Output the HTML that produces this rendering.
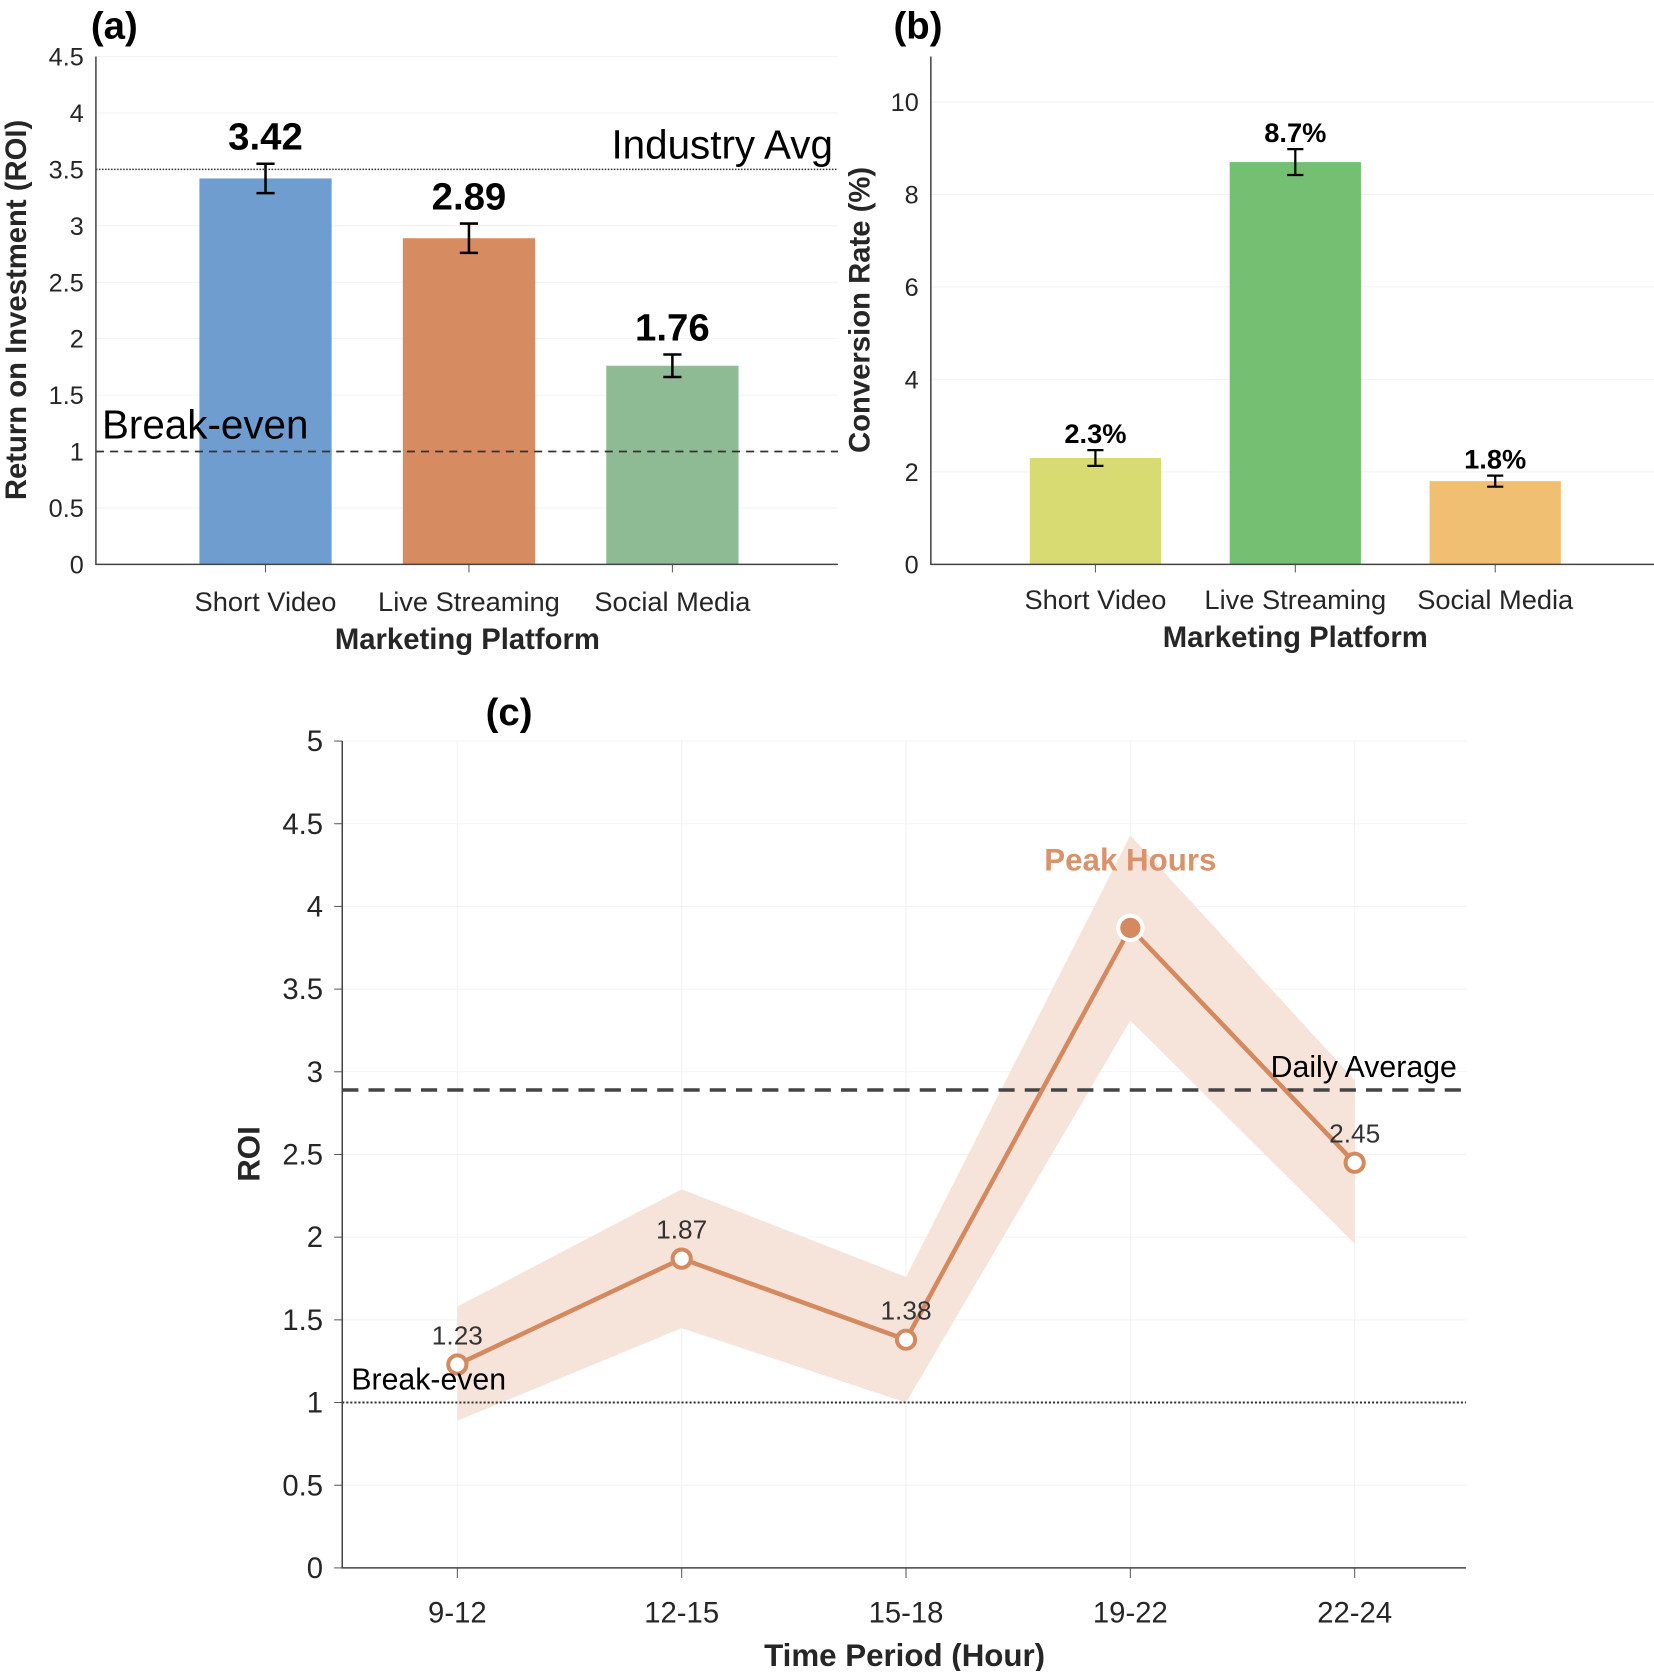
<!DOCTYPE html>
<html><head><meta charset="utf-8"><style>
body{margin:0;background:#fff;}
svg text{font-family:"Liberation Sans",Arial,sans-serif;}
</style></head><body>
<svg id="fig" width="1654" height="1671" viewBox="0 0 1654 1671" xmlns="http://www.w3.org/2000/svg">
<g transform="scale(1.0096)">
<g id="pa"></g>
<g id="pb"></g>
<g id="pc"></g>
</g>
</svg>
<script>
const platforms = ["Short Video","Live Streaming","Social Media"];
const roiValues = [3.42, 2.89, 1.76];
const roiErr = [0.13, 0.13, 0.10];
const roiLabels = ["3.42","2.89","1.76"];
const roiTicks = [0,0.5,1,1.5,2,2.5,3,3.5,4,4.5];
const convValues = [2.3, 8.7, 1.8];
const convErr = [0.17, 0.28, 0.12];
const convLabels = ["2.3%","8.7%","1.8%"];
const convTicks = [0,2,4,6,8,10];
const periods = ["9-12","12-15","15-18","19-22","22-24"];
const timeRoi = [1.23, 1.87, 1.38, 3.87, 2.45];
const bandLow = [0.89, 1.45, 1.0, 3.31, 1.96];
const bandHigh = [1.58, 2.29, 1.76, 4.43, 2.95];
const timeLabels = ["1.23","1.87","1.38","","2.45"];
const timeTicks = [0,0.5,1,1.5,2,2.5,3,3.5,4,4.5,5];
const breakEven = 1, industryAvg = 3.5, dailyAvg = 2.89;

const NS="http://www.w3.org/2000/svg";
function mk(parent, tag, attrs, text){
  const e=document.createElementNS(NS,tag);
  for(const k in attrs) e.setAttribute(k,attrs[k]);
  if(text!==undefined) e.textContent=text;
  parent.appendChild(e); return e;
}
const fmt=v=>String(v);

// ---------- Panel A ----------
(function(){
  const g=document.getElementById('pa');
  const L=95,R=830,T=56,B=559, ymax=4.5;
  const y=v=>B-(v/ymax)*(B-T);
  const xc=i=>263+i*201.5; const bw=131;
  roiTicks.forEach(t=>{
    const gl=mk(g,'line',{x1:L,x2:R,y1:y(t),y2:y(t),stroke:'#f2f2f2','stroke-width':1});
    
    
    const tl=mk(g,'text',{x:L-12,y:y(t)+9,'text-anchor':'end','font-size':25,fill:'#262626'},fmt(t));
    
    
  });
  const cols=['#6f9dcf','#d78b60','#8fbb94'];
  roiValues.forEach((v,i)=>{
    const b=mk(g,'rect',{x:xc(i)-bw/2,y:y(v),width:bw,height:B-y(v),fill:cols[i]});
    
    
    const e=roiErr[i];
    const eb=mk(g,'path',{d:`M${xc(i)},${y(v+e)}V${y(v-e)}M${xc(i)-9},${y(v+e)}h18M${xc(i)-9},${y(v-e)}h18`,stroke:'#000','stroke-width':2.5,fill:'none'});
    
    
    const lb=mk(g,'text',{x:xc(i),y:y(v+e)-14,'text-anchor':'middle','font-size':38,'font-weight':'bold',fill:'#000'},roiLabels[i]);
    
    
    const xl=mk(g,'text',{x:xc(i),y:605,'text-anchor':'middle','font-size':27,fill:'#262626'},platforms[i]);
    
    
    mk(g,'line',{x1:xc(i),x2:xc(i),y1:B,y2:B+8,stroke:'#555'});
  });
  const be=mk(g,'line',{x1:L,x2:R,y1:y(breakEven),y2:y(breakEven),stroke:'#333','stroke-width':1.8,'stroke-dasharray':'8,6'});
  
  
  const ia=mk(g,'line',{x1:L,x2:R,y1:y(industryAvg),y2:y(industryAvg),stroke:'#333','stroke-width':1.5,'stroke-dasharray':'1.5,1.5'});
  
  
  const t1=mk(g,'text',{x:101,y:y(breakEven)-13,'font-size':40,fill:'#000'},'Break-even');
  
  
  const t2=mk(g,'text',{x:825,y:y(industryAvg)-11,'text-anchor':'end','font-size':40,fill:'#000'},'Industry Avg');
  
  
  mk(g,'path',{d:`M${L},${T}V${B}H${R}`,stroke:'#444','stroke-width':1.5,fill:'none'});
  const xt=mk(g,'text',{x:463,y:643,'text-anchor':'middle','font-size':29,'font-weight':'bold',fill:'#262626'},'Marketing Platform');
  
  
  const yt=mk(g,'text',{x:0,y:0,transform:`translate(26,307) rotate(-90)`,'text-anchor':'middle','font-size':29,'font-weight':'bold',fill:'#262626'},'Return on Investment (ROI)');
  
  
  const pt=mk(g,'text',{x:90,y:38,'font-size':38,'font-weight':'bold',fill:'#000'},'(a)');
  
  
})();

// ---------- Panel B ----------
(function(){
  const g=document.getElementById('pb');
  const L=922,R=1648,T=56,B=559, y10=101;
  const y=v=>B-(v/10)*(B-y10);
  const xc=i=>1085+i*198; const bw=130;
  convTicks.forEach(t=>{
    const gl=mk(g,'line',{x1:L,x2:R,y1:y(t),y2:y(t),stroke:'#f2f2f2','stroke-width':1});
    
    
    const tl=mk(g,'text',{x:L-12,y:y(t)+9,'text-anchor':'end','font-size':25,fill:'#262626'},fmt(t));
    
    
  });
  const cols=['#d8da72','#74bf72','#f1bf72'];
  convValues.forEach((v,i)=>{
    const b=mk(g,'rect',{x:xc(i)-bw/2,y:y(v),width:bw,height:B-y(v),fill:cols[i]});
    
    
    const e=convErr[i];
    const eb=mk(g,'path',{d:`M${xc(i)},${y(v+e)}V${y(v-e)}M${xc(i)-8},${y(v+e)}h16M${xc(i)-8},${y(v-e)}h16`,stroke:'#000','stroke-width':2.2,fill:'none'});
    
    
    const lb=mk(g,'text',{x:xc(i),y:y(v+e)-7,'text-anchor':'middle','font-size':27,'font-weight':'bold',fill:'#000'},convLabels[i]);
    
    
    const xl=mk(g,'text',{x:xc(i),y:603,'text-anchor':'middle','font-size':27,fill:'#262626'},platforms[i]);
    
    
    mk(g,'line',{x1:xc(i),x2:xc(i),y1:B,y2:B+8,stroke:'#555'});
  });
  mk(g,'path',{d:`M${L},${T}V${B}H${R}`,stroke:'#444','stroke-width':1.5,fill:'none'});
  const xt=mk(g,'text',{x:1283,y:641,'text-anchor':'middle','font-size':29,'font-weight':'bold',fill:'#262626'},'Marketing Platform');
  
  
  const yt=mk(g,'text',{x:0,y:0,transform:`translate(861,307) rotate(-90)`,'text-anchor':'middle','font-size':29,'font-weight':'bold',fill:'#262626'},'Conversion Rate (%)');
  
  
  const pt=mk(g,'text',{x:885,y:38,'font-size':38,'font-weight':'bold',fill:'#000'},'(b)');
  
  
})();

// ---------- Panel C ----------
(function(){
  const g=document.getElementById('pc');
  const L=339,R=1452,T=734,B=1553, ymax=5;
  const y=v=>B-(v/ymax)*(B-T);
  const x=i=>453+i*222.2;
  timeTicks.forEach(t=>{
    const gl=mk(g,'line',{x1:L,x2:R,y1:y(t),y2:y(t),stroke:'#f2f2f2','stroke-width':1});
    
    
    const tl=mk(g,'text',{x:L-19,y:y(t)+10,'text-anchor':'end','font-size':29,fill:'#262626'},fmt(t));
    
    
    mk(g,'line',{x1:L-8,x2:L,y1:y(t),y2:y(t),stroke:'#555'});
  });
  periods.forEach((p,i)=>{
    const gl=mk(g,'line',{x1:x(i),x2:x(i),y1:T,y2:B,stroke:'#f2f2f2','stroke-width':1});
    
    
    mk(g,'line',{x1:x(i),x2:x(i),y1:B,y2:B+10,stroke:'#555'});
    const xl=mk(g,'text',{x:x(i),y:1607,'text-anchor':'middle','font-size':29,fill:'#262626'},p);
    
    
  });
  let d='M'+periods.map((p,i)=>`${x(i)},${y(bandHigh[i])}`).join('L');
  for(let i=periods.length-1;i>=0;i--) d+=`L${x(i)},${y(bandLow[i])}`;
  const band=mk(g,'path',{d:d+'Z',fill:'#f6e4da'});
  
  
  const be=mk(g,'line',{x1:L,x2:R,y1:y(breakEven),y2:y(breakEven),stroke:'#333','stroke-width':2,'stroke-dasharray':'2,2'});
  
  
  const da=mk(g,'line',{x1:L,x2:R,y1:y(dailyAvg),y2:y(dailyAvg),stroke:'#444','stroke-width':3.5,'stroke-dasharray':'16,10'});
  
  
  const ln=mk(g,'polyline',{points:timeRoi.map((v,i)=>`${x(i)},${y(v)}`).join(' '),fill:'none',stroke:'#d4895f','stroke-width':4.5});
  
  
  let peak=timeRoi.indexOf(Math.max(...timeRoi));
  timeRoi.forEach((v,i)=>{
    let pt;
    if(i===peak){
      pt=mk(g,'circle',{cx:x(i),cy:y(v),r:12,fill:'#d4895f',stroke:'#fff','stroke-width':4});
    } else {
      pt=mk(g,'circle',{cx:x(i),cy:y(v),r:9,fill:'#fff',stroke:'#d4895f','stroke-width':4});
    }
    
    
    if(timeLabels[i]){
      const lb=mk(g,'text',{x:x(i),y:y(v)-20,'text-anchor':'middle','font-size':26,fill:'#333'},timeLabels[i]);
      
      
    }
  });
  const pk=mk(g,'text',{x:x(peak),y:y(timeRoi[peak])-57,'text-anchor':'middle','font-size':31,'font-weight':'bold',fill:'#d9926a'},'Peak Hours');
  
  
  const t1=mk(g,'text',{x:348,y:y(breakEven)-13,'font-size':30,fill:'#000'},'Break-even');
  
  
  const t2=mk(g,'text',{x:1443,y:y(dailyAvg)-13,'text-anchor':'end','font-size':30,fill:'#000'},'Daily Average');
  
  
  mk(g,'path',{d:`M${L},${T}V${B}H${R}`,stroke:'#444','stroke-width':1.5,fill:'none'});
  const xt=mk(g,'text',{x:896,y:1650,'text-anchor':'middle','font-size':31,'font-weight':'bold',fill:'#262626'},'Time Period (Hour)');
  
  
  const yt=mk(g,'text',{x:0,y:0,transform:`translate(257,1143) rotate(-90)`,'text-anchor':'middle','font-size':31,'font-weight':'bold',fill:'#262626'},'ROI');
  
  
  const pt=mk(g,'text',{x:481,y:718,'font-size':38,'font-weight':'bold',fill:'#000'},'(c)');
  
  
})();
</script>
</body></html>
